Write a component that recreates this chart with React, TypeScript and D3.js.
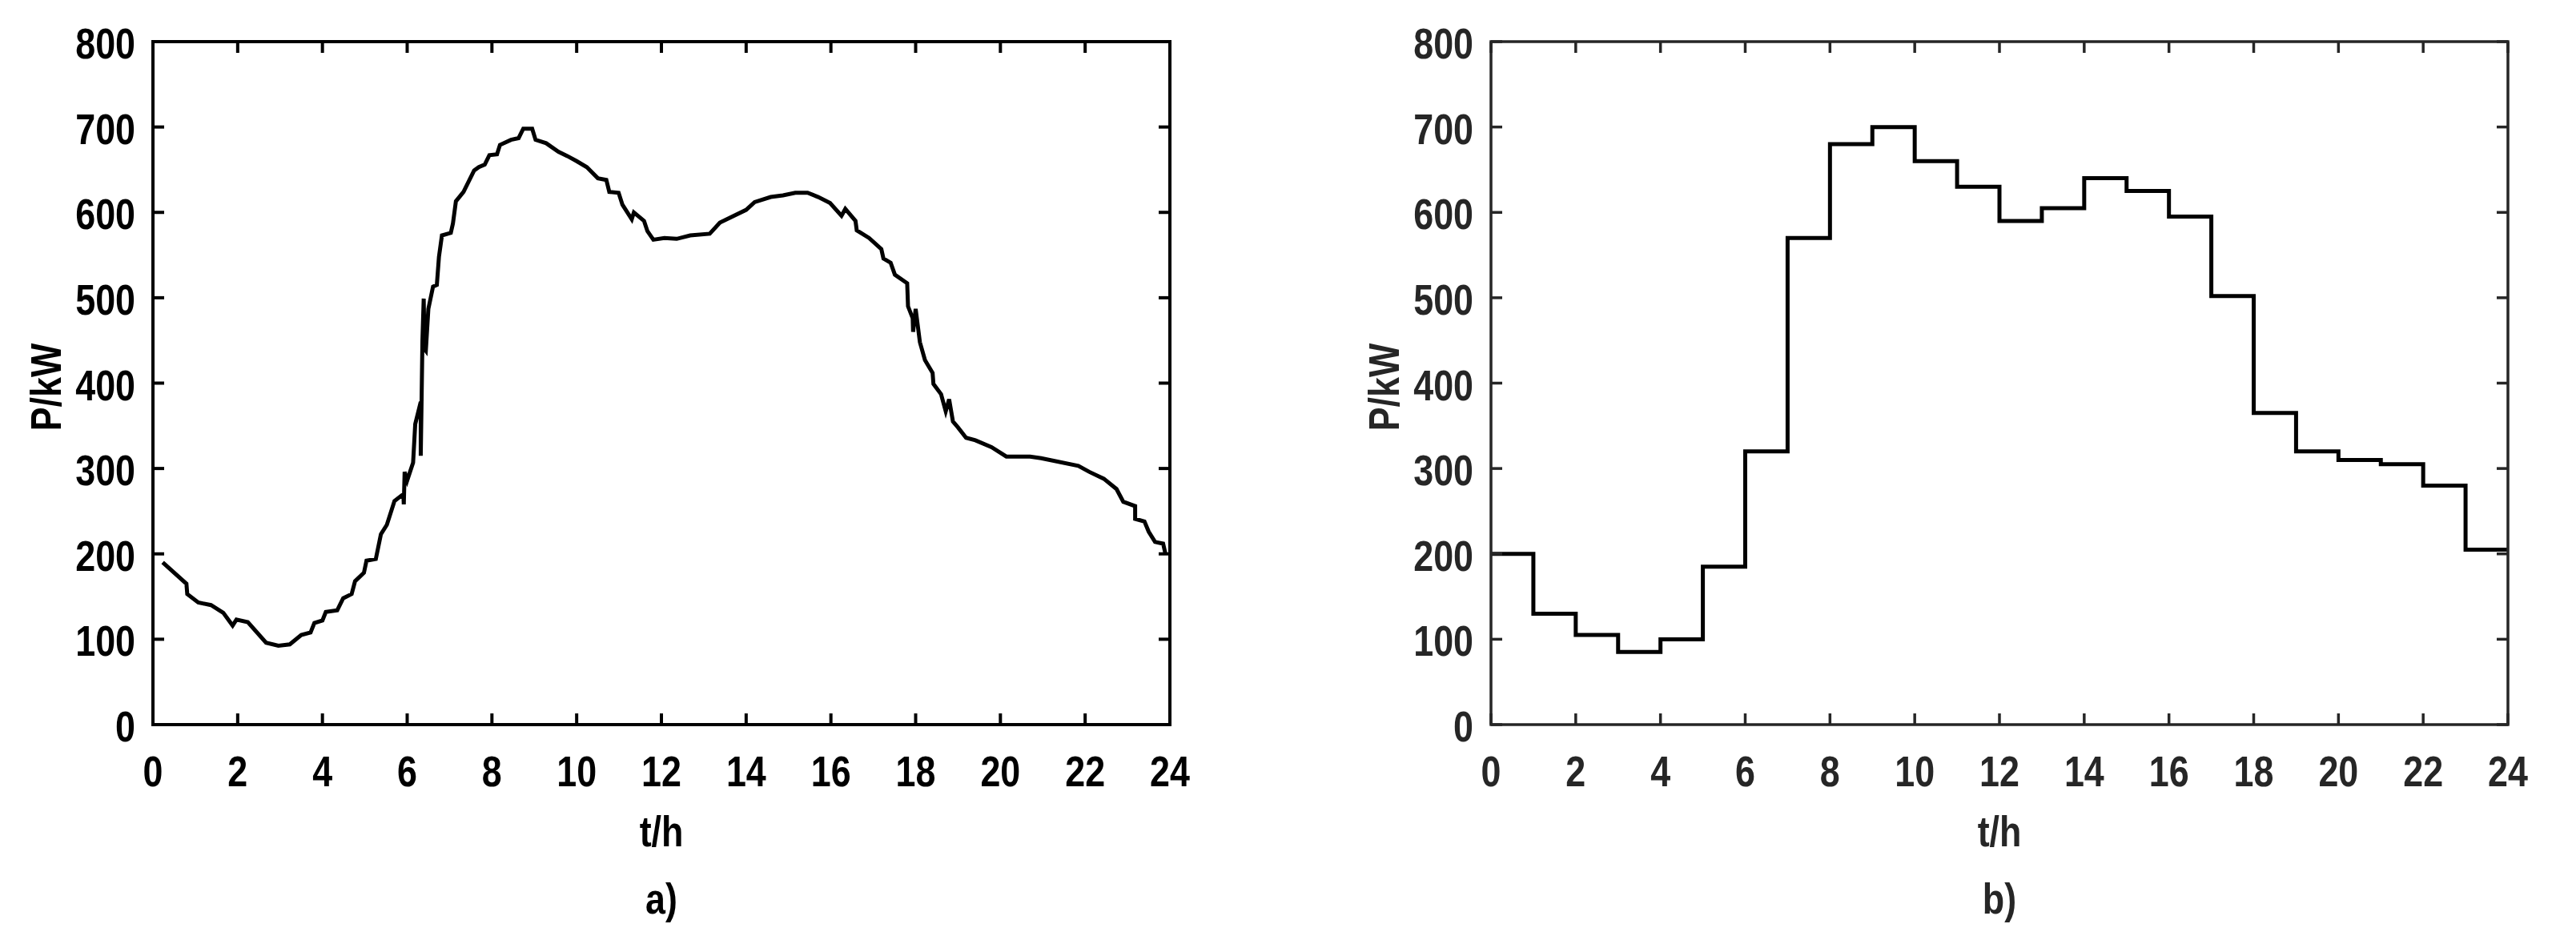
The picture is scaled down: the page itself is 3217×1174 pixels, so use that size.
import React from "react";
import * as d3 from "d3";

// ---- data ----
const hoursA: number[] = [0.23,0.79,0.81,1.07,1.37,1.66,1.88,1.97,2.24,2.67,2.96,3.23,3.5,3.72,3.81,4.0,4.08,4.35,4.49,4.69,4.77,4.98,5.04,5.26,5.38,5.52,5.70,5.91,5.92,5.94,6.0,6.14,6.19,6.27,6.32,6.32,6.34,6.36,6.39,6.41,6.44,6.5,6.61,6.70,6.75,6.82,7.03,7.08,7.15,7.33,7.58,7.69,7.83,7.94,8.12,8.19,8.45,8.63,8.74,8.95,9.03,9.28,9.57,9.78,10.0,10.24,10.5,10.7,10.77,10.99,11.08,11.3,11.35,11.59,11.67,11.81,12.07,12.36,12.68,13.14,13.38,14.0,14.2,14.58,14.87,15.16,15.45,15.7,15.98,16.25,16.34,16.58,16.61,16.9,17.19,17.24,17.41,17.51,17.8,17.82,17.93,17.94,18.0,18.1,18.22,18.4,18.42,18.6,18.71,18.79,18.88,19.0,19.19,19.41,19.79,20.14,20.70,20.96,21.84,22.1,22.44,22.74,22.9,23.18,23.18,23.4,23.5,23.65,23.84,23.9];
const loadA: number[] = [190,165,153,143,140,131,116,123,120,96,92.5,94,105,108,119,122,132,134,148,153,168,178,192,194,223,234,262,270,258,296,286,307,352,368,378,315,380,450,499,440,438,487,513,515,548,573,576,587,613,624,649,653,656,667,668,679,685,687,698,698,685,681,671,666,660,653,640,638,624,623,609,592,600,590,578,568,570,569,573,575,588,603,612,618,620,623,623,618,611,596,604,590,579,570,557,546,541,527,517,490,476,460,487,448,427,412,399,387,367,381,355,348,336,333,325,314,314,312,303,296,288,276,261,256,241,238,226,214,212,199];

const hoursB: number[] = [0,1,2,3,4,5,6,7,8,9,10,11,12,13,14,15,16,17,18,19,20,21,22,23,24];
const loadB: number[] = [200,130,105,85,100,185,320,570,680,700,660,630,590,605,640,625,595,502,365,320,310,305,280,205,205];

const xTicks: number[] = [0,2,4,6,8,10,12,14,16,18,20,22,24];
const yTicks: number[] = [0,100,200,300,400,500,600,700,800];
const xLabel = "t/h";
const yLabel = "P/kW";

const FONT = "'Liberation Sans', Arial, sans-serif";
const SX = 0.83; // narrow (condensed) look

function NText({ x, y, anchor, rotate, children }: { x: number; y: number; anchor: string; rotate?: number; children: React.ReactNode }) {
  const tr = `translate(${x},${y})${rotate ? ` rotate(${rotate})` : ""} scale(${SX},1)`;
  return (
    <text transform={tr} textAnchor={anchor}>
      {children}
    </text>
  );
}

type PanelProps = {
  left: number;
  xs: number[];
  ys: number[];
  step: boolean;
  caption: string;
  axisColor: string;
  axisWidth: number;
};

function Panel({ left, xs, ys, step, caption, axisColor, axisWidth }: PanelProps) {
  const W = 1270;
  const top = 52;
  const bottom = 905;
  const x = d3.scaleLinear().domain([0, 24]).range([left, left + W]);
  const y = d3.scaleLinear().domain([0, 800]).range([bottom, top]);
  const pts = xs.map((t, i) => [t, ys[i]] as [number, number]);
  const line = d3
    .line<[number, number]>()
    .x((d) => x(d[0]))
    .y((d) => y(d[1]))
    .curve(step ? d3.curveStepAfter : d3.curveLinear);
  const tl = 14;
  const cx = left + W / 2;
  return (
    <g fontFamily={FONT} fontWeight="bold" fontSize={54} fill={axisColor}>
      <path d={line(pts) || ""} fill="none" stroke="#000" strokeWidth={5} strokeLinejoin="miter" />
      {xTicks.map((t) => (
        <g key={"xt" + t}>
          <line x1={x(t)} x2={x(t)} y1={bottom} y2={bottom - tl} stroke={axisColor} strokeWidth={axisWidth} />
          <line x1={x(t)} x2={x(t)} y1={top} y2={top + tl} stroke={axisColor} strokeWidth={axisWidth} />
          <NText x={x(t)} y={982} anchor="middle">{t}</NText>
        </g>
      ))}
      {yTicks.map((v) => (
        <g key={"yt" + v}>
          <line x1={left} x2={left + tl} y1={y(v)} y2={y(v)} stroke={axisColor} strokeWidth={axisWidth} />
          <line x1={left + W} x2={left + W - tl} y1={y(v)} y2={y(v)} stroke={axisColor} strokeWidth={axisWidth} />
          <NText x={left - 22} y={y(v) + 21} anchor="end">{v}</NText>
        </g>
      ))}
      <rect x={left} y={top} width={W} height={bottom - top} fill="none" stroke={axisColor} strokeWidth={axisWidth} />
      <NText x={cx} y={1057} anchor="middle">{xLabel}</NText>
      <NText x={left - 115} y={(top + bottom) / 2 + 5} anchor="middle" rotate={-90}>{yLabel}</NText>
      <NText x={cx} y={1141} anchor="middle">{caption}</NText>
    </g>
  );
}

export default function App() {
  return (
    <svg
      width={3217}
      height={1174}
      style={{ position: "absolute", left: 0, top: 0, background: "#fff" }}
    >
      <rect width={3217} height={1174} fill="#fff" />
      <Panel left={191} xs={hoursA} ys={loadA} step={false} caption="a)" axisColor="#000" axisWidth={4} />
      <Panel left={1862} xs={hoursB} ys={loadB} step={true} caption="b)" axisColor="#262626" axisWidth={3.5} />
    </svg>
  );
}
